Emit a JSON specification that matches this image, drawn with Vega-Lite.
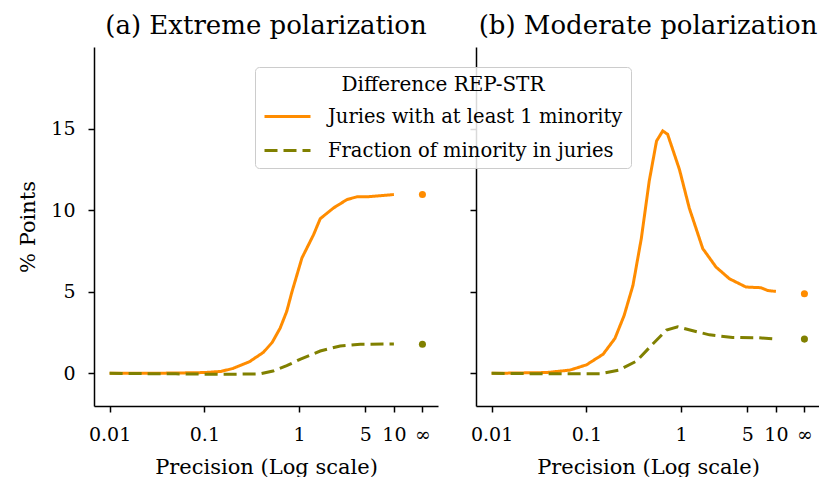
{
  "$schema": "https://vega.github.io/schema/vega-lite/v6.json",
  "padding": {"left": 17, "top": 13, "right": 0, "bottom": 0},
  "spacing": 38,
  "bounds": "flush",
  "config": {
    "font": "DejaVu Serif",
    "view": {"stroke": null},
    "axis": {
      "labelFont": "DejaVu Serif", "titleFont": "DejaVu Serif",
      "labelFontSize": 19, "titleFontSize": 21, "titleFontWeight": "normal",
      "labelColor": "#000", "titleColor": "#000", "domainColor": "#000", "tickColor": "#000",
      "domainWidth": 1.5, "tickWidth": 1.5, "tickSize": 6, "grid": false, "labelPadding": 13
    },
    "title": {"font": "DejaVu Serif", "fontSize": 26, "fontWeight": "normal", "color": "#000", "offset": 8}
  },
  "resolve": {"scale": {"color": "independent", "strokeDash": "independent"}, "legend": {"color": "independent", "strokeDash": "independent"}},
  "datasets": {
    "d": [
      {"panel": "a", "series": "Juries with at least 1 minority", "p": 0.01, "v": 0},
      {"panel": "a", "series": "Juries with at least 1 minority", "p": 0.02, "v": 0},
      {"panel": "a", "series": "Juries with at least 1 minority", "p": 0.05, "v": 0.02},
      {"panel": "a", "series": "Juries with at least 1 minority", "p": 0.1, "v": 0.05},
      {"panel": "a", "series": "Juries with at least 1 minority", "p": 0.15, "v": 0.12},
      {"panel": "a", "series": "Juries with at least 1 minority", "p": 0.2, "v": 0.3},
      {"panel": "a", "series": "Juries with at least 1 minority", "p": 0.3, "v": 0.72},
      {"panel": "a", "series": "Juries with at least 1 minority", "p": 0.42, "v": 1.29},
      {"panel": "a", "series": "Juries with at least 1 minority", "p": 0.52, "v": 1.9},
      {"panel": "a", "series": "Juries with at least 1 minority", "p": 0.63, "v": 2.77},
      {"panel": "a", "series": "Juries with at least 1 minority", "p": 0.74, "v": 3.8},
      {"panel": "a", "series": "Juries with at least 1 minority", "p": 0.84, "v": 5.0},
      {"panel": "a", "series": "Juries with at least 1 minority", "p": 1.07, "v": 7.07},
      {"panel": "a", "series": "Juries with at least 1 minority", "p": 1.42, "v": 8.5},
      {"panel": "a", "series": "Juries with at least 1 minority", "p": 1.67, "v": 9.48},
      {"panel": "a", "series": "Juries with at least 1 minority", "p": 2.31, "v": 10.14},
      {"panel": "a", "series": "Juries with at least 1 minority", "p": 3.2, "v": 10.65},
      {"panel": "a", "series": "Juries with at least 1 minority", "p": 4.07, "v": 10.82},
      {"panel": "a", "series": "Juries with at least 1 minority", "p": 5.2, "v": 10.82},
      {"panel": "a", "series": "Juries with at least 1 minority", "p": 7, "v": 10.88},
      {"panel": "a", "series": "Juries with at least 1 minority", "p": 10, "v": 10.96},
      {"panel": "a", "series": "Juries with at least 1 minority", "p": 20, "v": 10.96},
      {"panel": "a", "series": "Fraction of minority in juries", "p": 0.01, "v": 0},
      {"panel": "a", "series": "Fraction of minority in juries", "p": 0.05, "v": -0.03},
      {"panel": "a", "series": "Fraction of minority in juries", "p": 0.1, "v": -0.05},
      {"panel": "a", "series": "Fraction of minority in juries", "p": 0.2, "v": -0.05},
      {"panel": "a", "series": "Fraction of minority in juries", "p": 0.39, "v": -0.03},
      {"panel": "a", "series": "Fraction of minority in juries", "p": 0.53, "v": 0.14},
      {"panel": "a", "series": "Fraction of minority in juries", "p": 0.74, "v": 0.47},
      {"panel": "a", "series": "Fraction of minority in juries", "p": 1.02, "v": 0.86},
      {"panel": "a", "series": "Fraction of minority in juries", "p": 1.67, "v": 1.37},
      {"panel": "a", "series": "Fraction of minority in juries", "p": 2.71, "v": 1.68},
      {"panel": "a", "series": "Fraction of minority in juries", "p": 4.42, "v": 1.78},
      {"panel": "a", "series": "Fraction of minority in juries", "p": 10, "v": 1.8},
      {"panel": "a", "series": "Fraction of minority in juries", "p": 20, "v": 1.78},
      {"panel": "b", "series": "Juries with at least 1 minority", "p": 0.01, "v": 0},
      {"panel": "b", "series": "Juries with at least 1 minority", "p": 0.038, "v": 0.05},
      {"panel": "b", "series": "Juries with at least 1 minority", "p": 0.067, "v": 0.2},
      {"panel": "b", "series": "Juries with at least 1 minority", "p": 0.1, "v": 0.52},
      {"panel": "b", "series": "Juries with at least 1 minority", "p": 0.15, "v": 1.17},
      {"panel": "b", "series": "Juries with at least 1 minority", "p": 0.2, "v": 2.14},
      {"panel": "b", "series": "Juries with at least 1 minority", "p": 0.25, "v": 3.54},
      {"panel": "b", "series": "Juries with at least 1 minority", "p": 0.31, "v": 5.39},
      {"panel": "b", "series": "Juries with at least 1 minority", "p": 0.38, "v": 8.27},
      {"panel": "b", "series": "Juries with at least 1 minority", "p": 0.46, "v": 11.77},
      {"panel": "b", "series": "Juries with at least 1 minority", "p": 0.55, "v": 14.24},
      {"panel": "b", "series": "Juries with at least 1 minority", "p": 0.64, "v": 14.86},
      {"panel": "b", "series": "Juries with at least 1 minority", "p": 0.72, "v": 14.65},
      {"panel": "b", "series": "Juries with at least 1 minority", "p": 0.96, "v": 12.49},
      {"panel": "b", "series": "Juries with at least 1 minority", "p": 1.22, "v": 10.12},
      {"panel": "b", "series": "Juries with at least 1 minority", "p": 1.69, "v": 7.65},
      {"panel": "b", "series": "Juries with at least 1 minority", "p": 2.33, "v": 6.52},
      {"panel": "b", "series": "Juries with at least 1 minority", "p": 3.23, "v": 5.8},
      {"panel": "b", "series": "Juries with at least 1 minority", "p": 4.83, "v": 5.29},
      {"panel": "b", "series": "Juries with at least 1 minority", "p": 6.95, "v": 5.25},
      {"panel": "b", "series": "Juries with at least 1 minority", "p": 8.17, "v": 5.08},
      {"panel": "b", "series": "Juries with at least 1 minority", "p": 10, "v": 5.02},
      {"panel": "b", "series": "Juries with at least 1 minority", "p": 20, "v": 4.88},
      {"panel": "b", "series": "Fraction of minority in juries", "p": 0.01, "v": 0},
      {"panel": "b", "series": "Fraction of minority in juries", "p": 0.05, "v": -0.03},
      {"panel": "b", "series": "Fraction of minority in juries", "p": 0.138, "v": -0.03},
      {"panel": "b", "series": "Fraction of minority in juries", "p": 0.22, "v": 0.2},
      {"panel": "b", "series": "Fraction of minority in juries", "p": 0.34, "v": 0.76},
      {"panel": "b", "series": "Fraction of minority in juries", "p": 0.5, "v": 1.79},
      {"panel": "b", "series": "Fraction of minority in juries", "p": 0.7, "v": 2.65},
      {"panel": "b", "series": "Fraction of minority in juries", "p": 0.92, "v": 2.86},
      {"panel": "b", "series": "Fraction of minority in juries", "p": 1.33, "v": 2.61},
      {"panel": "b", "series": "Fraction of minority in juries", "p": 1.99, "v": 2.36},
      {"panel": "b", "series": "Fraction of minority in juries", "p": 3.49, "v": 2.2},
      {"panel": "b", "series": "Fraction of minority in juries", "p": 6.67, "v": 2.18},
      {"panel": "b", "series": "Fraction of minority in juries", "p": 10, "v": 2.1},
      {"panel": "b", "series": "Fraction of minority in juries", "p": 20, "v": 2.1}
    ]
  },
  "hconcat": [
    {
      "width": 344, "height": 359,
      "title": "(a) Extreme polarization",
      "data": {"name": "d"},
      "transform": [{"filter": "datum.panel == 'a'"}],
      "layer": [
        {
          "transform": [{"filter": "datum.p < 20"}],
          "mark": {"type": "line", "strokeWidth": 3, "clip": true},
          "encoding": {
            "x": {"field": "p", "type": "quantitative", "scale": {"type": "log", "domain": [0.00684, 29.2], "nice": false},
                  "axis": {"values": [0.01, 0.1, 1, 5, 10, 20], "format": "~g", "labelExpr": "datum.value >= 20 ? '∞' : datum.label", "title": "Precision (Log scale)", "titlePadding": 12}},
            "y": {"field": "v", "type": "quantitative", "scale": {"domain": [-2, 20], "nice": false, "zero": false},
                  "axis": {"values": [0, 5, 10, 15], "title": "% Points", "titlePadding": 12}},
            "color": {"field": "series", "type": "nominal",
                      "scale": {"domain": ["Juries with at least 1 minority", "Fraction of minority in juries"], "range": ["#ff8c00", "#808000"]},
                      "legend": null},
            "strokeDash": {"field": "series", "type": "nominal",
                           "scale": {"domain": ["Juries with at least 1 minority", "Fraction of minority in juries"], "range": [[1, 0], [13, 6]]},
                           "legend": null}
          }
        },
        {
          "transform": [{"filter": "datum.p >= 20"}],
          "mark": {"type": "point", "filled": true, "size": 50, "opacity": 1},
          "encoding": {
            "x": {"field": "p", "type": "quantitative"},
            "y": {"field": "v", "type": "quantitative"},
            "color": {"field": "series", "type": "nominal", "legend": null}
          }
        }
      ]
    },
    {
      "width": 344, "height": 359,
      "title": "(b) Moderate polarization",
      "data": {"name": "d"},
      "transform": [{"filter": "datum.panel == 'b'"}],
      "layer": [
        {
          "transform": [{"filter": "datum.p < 20"}],
          "mark": {"type": "line", "strokeWidth": 3, "clip": true},
          "encoding": {
            "x": {"field": "p", "type": "quantitative", "scale": {"type": "log", "domain": [0.00684, 29.2], "nice": false},
                  "axis": {"values": [0.01, 0.1, 1, 5, 10, 20], "format": "~g", "labelExpr": "datum.value >= 20 ? '∞' : datum.label", "title": "Precision (Log scale)", "titlePadding": 12}},
            "y": {"field": "v", "type": "quantitative", "scale": {"domain": [-2, 20], "nice": false, "zero": false},
                  "axis": {"values": [0, 5, 10, 15], "labels": false, "title": null}},
            "color": {"field": "series", "type": "nominal",
                      "scale": {"domain": ["Juries with at least 1 minority", "Fraction of minority in juries"], "range": ["#ff8c00", "#808000"]},
                      "legend": {"title": "Difference REP-STR", "orient": "none", "legendX": -221, "legendY": 20,
                                 "fillColor": "rgba(255,255,255,0.85)", "strokeColor": "#cccccc", "cornerRadius": 4, "padding": 8,
                                 "titleFont": "DejaVu Serif", "titleFontSize": 20, "titleFontWeight": "normal", "titleColor": "#000", "titleAnchor": "middle", "titlePadding": -3, "titleLimit": 500,
                                 "labelFont": "DejaVu Serif", "labelFontSize": 19.5, "labelColor": "#000", "labelOffset": 16, "labelLimit": 400,
                                 "symbolType": "stroke", "symbolSize": 2116, "symbolStrokeWidth": 3, "rowPadding": -5}},
            "strokeDash": {"field": "series", "type": "nominal",
                           "scale": {"domain": ["Juries with at least 1 minority", "Fraction of minority in juries"], "range": [[1, 0], [13, 6]]},
                           "legend": {"title": "Difference REP-STR", "orient": "none", "legendX": -221, "legendY": 20}}
          }
        },
        {
          "transform": [{"filter": "datum.p >= 20"}],
          "mark": {"type": "point", "filled": true, "size": 50, "opacity": 1},
          "encoding": {
            "x": {"field": "p", "type": "quantitative"},
            "y": {"field": "v", "type": "quantitative"},
            "color": {"field": "series", "type": "nominal"}
          }
        }
      ]
    }
  ]
}
